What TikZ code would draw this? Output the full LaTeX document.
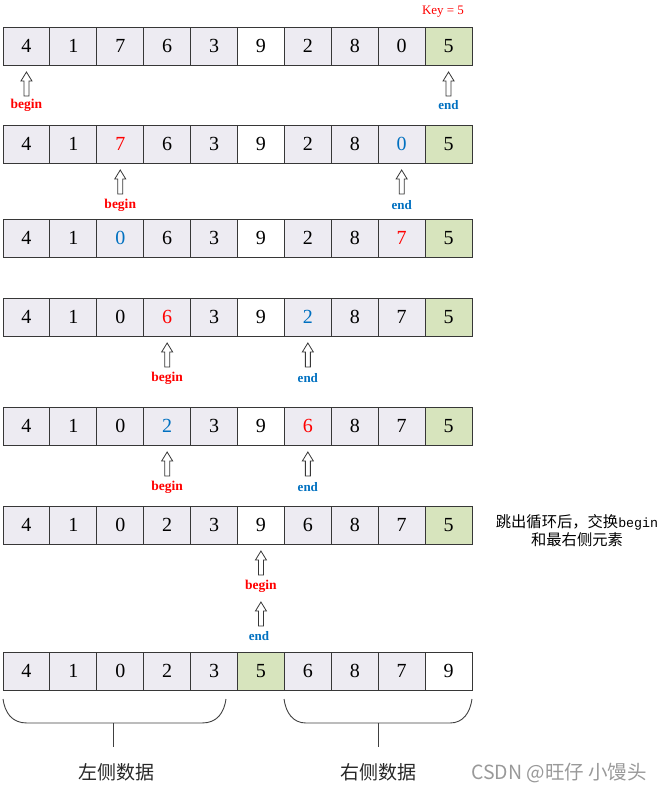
\documentclass[tikz,border=0pt]{standalone}
\usepackage{fontspec}
\setmainfont{Liberation Serif}
\setmonofont{Liberation Mono}
\newfontfamily\cjk{Noto Sans CJK SC}
\definecolor{cellfill}{RGB}{237,235,242}
\definecolor{keyfill}{RGB}{215,228,189}
\definecolor{myred}{RGB}{255,0,0}
\definecolor{myblue}{RGB}{0,112,192}
\definecolor{edge}{RGB}{55,55,55}
\tikzset{
  cell/.style={draw=edge, line width=1pt, minimum width=46.9pt, minimum height=38pt,
    inner sep=0pt, outer sep=0pt, fill=cellfill, font=\fontsize{20}{20}\selectfont},
  beginlbl/.style={text=myred, font=\bfseries\fontsize{13.5}{14}\selectfont, inner sep=0pt},
  endlbl/.style={text=myblue, font=\bfseries\fontsize{13}{14}\selectfont, inner sep=0pt},
  uparr/.pic={\draw[edge, line width=0.8pt, fill=white] (0,0) -- (5.5,9) -- (2.5,9) -- (2.5,24) -- (-2.5,24) -- (-2.5,9) -- (-5.5,9) -- cycle;},
  bracestyle/.style={draw=black!75, line width=0.9pt},
}
\begin{document}
\begin{tikzpicture}[x=1pt, y=-1pt]
\useasboundingbox (0,0) rectangle (663,793);
% rows
\foreach \row/\yy/\data in {
  1/46/{4/cellfill/black,1/cellfill/black,7/cellfill/black,6/cellfill/black,3/cellfill/black,9/white/black,2/cellfill/black,8/cellfill/black,0/cellfill/black,5/keyfill/black},
  2/144/{4/cellfill/black,1/cellfill/black,7/cellfill/myred,6/cellfill/black,3/cellfill/black,9/white/black,2/cellfill/black,8/cellfill/black,0/cellfill/myblue,5/keyfill/black},
  3/238/{4/cellfill/black,1/cellfill/black,0/cellfill/myblue,6/cellfill/black,3/cellfill/black,9/white/black,2/cellfill/black,8/cellfill/black,7/cellfill/myred,5/keyfill/black},
  4/317/{4/cellfill/black,1/cellfill/black,0/cellfill/black,6/cellfill/myred,3/cellfill/black,9/white/black,2/cellfill/myblue,8/cellfill/black,7/cellfill/black,5/keyfill/black},
  5/426/{4/cellfill/black,1/cellfill/black,0/cellfill/black,2/cellfill/myblue,3/cellfill/black,9/white/black,6/cellfill/myred,8/cellfill/black,7/cellfill/black,5/keyfill/black},
  6/525/{4/cellfill/black,1/cellfill/black,0/cellfill/black,2/cellfill/black,3/cellfill/black,9/white/black,6/cellfill/black,8/cellfill/black,7/cellfill/black,5/keyfill/black},
  7/671/{4/cellfill/black,1/cellfill/black,0/cellfill/black,2/cellfill/black,3/cellfill/black,5/keyfill/black,6/cellfill/black,8/cellfill/black,7/cellfill/black,9/white/black}}
{
  \foreach \v/\f/\c [count=\i from 0] in \data {
    \node[cell, fill=\f, text=\c] (r\row c\i) at ({3+46.9*(\i+0.5)}, \yy) {\v};
  }
}
% key label
\node[text=myred, font=\fontsize{13}{13}\selectfont, inner sep=0pt] (key) at (443,12) {Key = 5};
% row 1 pointers
\pic at (26.45,72) {uparr};   \node[beginlbl] (b1) at (26.45,105) {begin};
\pic at (448.55,72) {uparr};  \node[endlbl] (e1) at (448.55,105) {end};
% row 2 pointers
\pic at (120.25,170) {uparr}; \node[beginlbl] (b2) at (120.25,205) {begin};
\pic at (401.65,170) {uparr}; \node[endlbl] (e2) at (401.65,205) {end};
% row 4 pointers
\pic at (167.15,343) {uparr}; \node[beginlbl] (b4) at (167.15,378) {begin};
\pic at (307.85,343) {uparr}; \node[endlbl] (e4) at (307.85,378) {end};
% row 5 pointers
\pic at (167.15,452) {uparr}; \node[beginlbl] (b5) at (167.15,487) {begin};
\pic at (307.85,452) {uparr}; \node[endlbl] (e5) at (307.85,487) {end};
% row 6 pointers
\pic at (260.95,551) {uparr}; \node[beginlbl] (b6) at (260.95,586) {begin};
\pic at (260.95,602) {uparr}; \node[endlbl] (e6) at (259,636) {end};
% note
\node[align=center, inner sep=0pt, font=\cjk\fontsize{15.3}{18}\selectfont] (note) at (577,531)
  {跳出循环后，交换{\ttfamily\fontsize{13.3}{18}\selectfont begin}\\和最右侧元素};
% braces
\coordinate (lb1) at (3,699);   \coordinate (lb2) at (226,699);
\coordinate (rb1) at (284,699); \coordinate (rb2) at (472,699);
\draw[bracestyle] (lb1) .. controls (5,713) and (12,723) .. (27,723) -- (202,723)
  .. controls (217,723) and (224,713) .. (lb2);
\draw[bracestyle] (113,723) -- (113,747);
\draw[bracestyle] (rb1) .. controls (286,713) and (293,723) .. (306,723) -- (450,723)
  .. controls (463,723) and (470,713) .. (rb2);
\draw[bracestyle] (378,723) -- (378,747);
\node[font=\cjk\fontsize{19}{19}\selectfont, text=black!85, inner sep=0pt] (left) at (116,772) {左侧数据};
\node[font=\cjk\fontsize{19}{19}\selectfont, text=black!85, inner sep=0pt] (right) at (378,772) {右侧数据};
\node[font=\cjk\fontsize{19.5}{19.5}\selectfont, text=black!40, inner sep=0pt] (wm) at (559,773) {CSDN @旺仔 小馒头};
\end{tikzpicture}
\end{document}
